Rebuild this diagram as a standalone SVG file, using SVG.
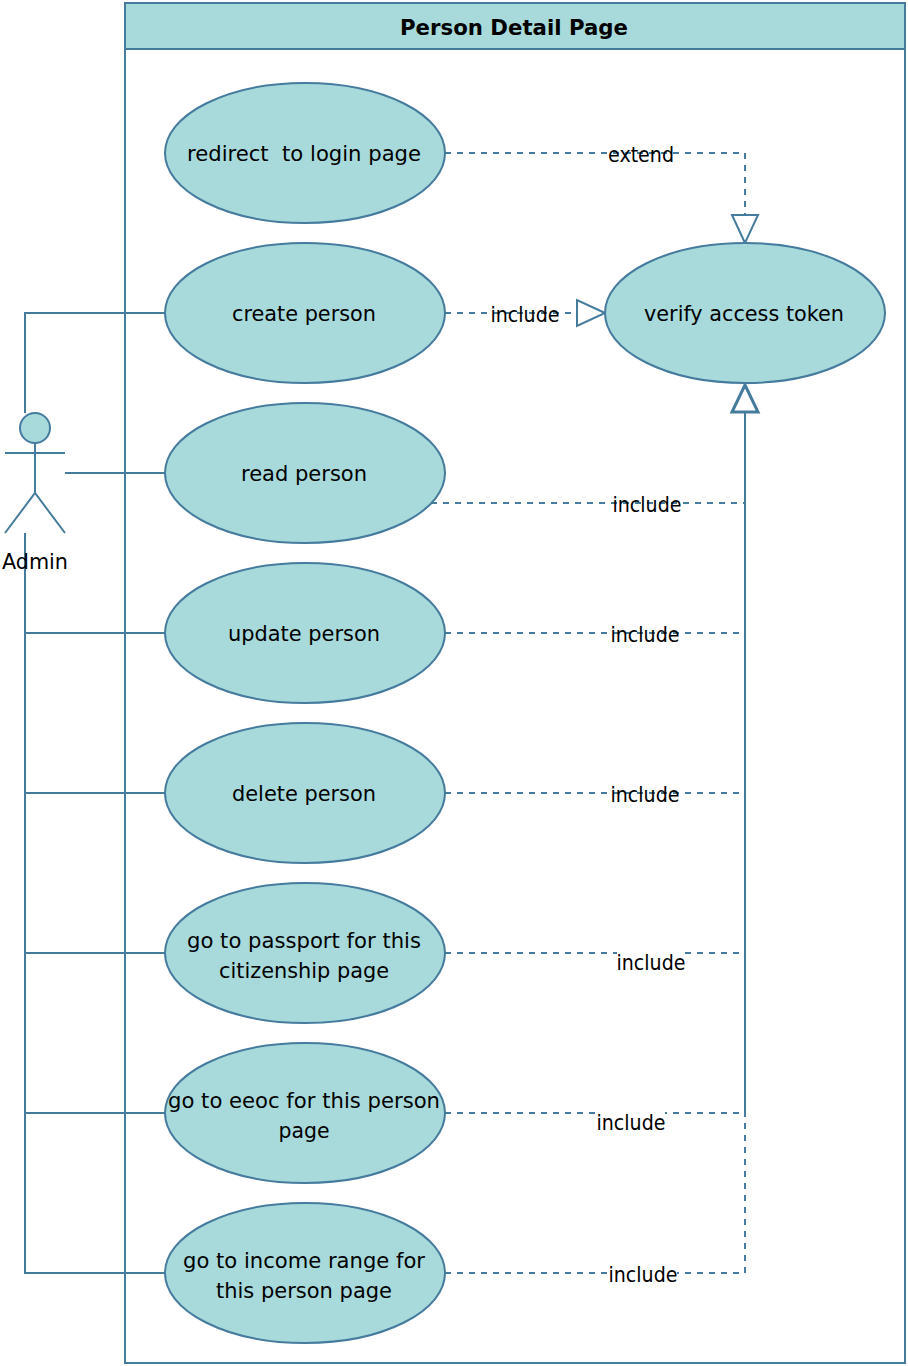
<svg xmlns="http://www.w3.org/2000/svg" width="908" height="1366" viewBox="0 0 908 1366">
<style>
.s{fill:#a8dadc;stroke:#457b9d;stroke-width:2}
.c{fill:none;stroke:#457b9d;stroke-width:2}
.d{fill:none;stroke:#457b9d;stroke-width:2;stroke-dasharray:6 6}
text{font-family:"DejaVu Sans",sans-serif;font-size:22px;fill:#000;text-anchor:middle;white-space:pre}
</style>
<g id="frame"><rect x="125" y="3" width="780" height="1360" fill="none" stroke="#457b9d" stroke-width="2"/><rect class="s" x="125" y="3" width="780" height="46"/><text x="514" y="35" font-weight="bold" textLength="228" lengthAdjust="spacingAndGlyphs">Person Detail Page</text></g>
<g id="connectors">
<path class="c" d="M25 413V313H165M65 473H165M25 533V1273H165M25 633H165M25 793H165M25 953H165M25 1113H165"/>
<path class="d" d="M445 153H745V215M445 313H577M431 503H745M445 633H745M445 793H745M445 953H745M445 1113H745M445 1273H745V1113"/>
<path class="c" d="M745 1113V412"/>
<path class="c" d="M745 243L732 215H758ZM605 313L577 300V326Z"/>
<path class="c" style="stroke-width:3" d="M745 385L732 412H758Z"/>
<g id="edge-labels">
<rect x="617" y="951" width="68" height="24" fill="#fff"/>
<rect x="597" y="1111" width="68" height="24" fill="#fff"/>
<rect x="609" y="1262" width="68" height="24" fill="#fff"/>
<text x="641" y="162" textLength="66" lengthAdjust="spacingAndGlyphs">extend</text>
<text x="525" y="322" textLength="69" lengthAdjust="spacingAndGlyphs">include</text>
<text x="647" y="512" textLength="69" lengthAdjust="spacingAndGlyphs">include</text>
<text x="645" y="642" textLength="69" lengthAdjust="spacingAndGlyphs">include</text>
<text x="645" y="802" textLength="69" lengthAdjust="spacingAndGlyphs">include</text>
<text x="651" y="970" textLength="69" lengthAdjust="spacingAndGlyphs">include</text>
<text x="631" y="1130" textLength="69" lengthAdjust="spacingAndGlyphs">include</text>
<text x="643" y="1282" textLength="69" lengthAdjust="spacingAndGlyphs">include</text>
</g>
</g>
<g id="admin"><circle class="s" cx="35" cy="428" r="15"/><path class="c" d="M35 443V493M5 453H65M5 533L35 493L65 533"/><text x="35" y="569" textLength="66" lengthAdjust="spacingAndGlyphs">Admin</text></g>
<g id="redirect"><ellipse class="s" cx="305" cy="153" rx="140" ry="70"/><text x="304" y="161" textLength="234" lengthAdjust="spacingAndGlyphs">redirect  to login page</text></g>
<g id="create"><ellipse class="s" cx="305" cy="313" rx="140" ry="70"/><text x="304" y="321" textLength="144" lengthAdjust="spacingAndGlyphs">create person</text></g>
<g id="read"><ellipse class="s" cx="305" cy="473" rx="140" ry="70"/><text x="304" y="481" textLength="126" lengthAdjust="spacingAndGlyphs">read person</text></g>
<g id="update"><ellipse class="s" cx="305" cy="633" rx="140" ry="70"/><text x="304" y="641" textLength="152" lengthAdjust="spacingAndGlyphs">update person</text></g>
<g id="delete"><ellipse class="s" cx="305" cy="793" rx="140" ry="70"/><text x="304" y="801" textLength="144" lengthAdjust="spacingAndGlyphs">delete person</text></g>
<g id="passport"><ellipse class="s" cx="305" cy="953" rx="140" ry="70"/><text x="304" y="948" textLength="234" lengthAdjust="spacingAndGlyphs">go to passport for this</text><text x="304" y="978" textLength="170" lengthAdjust="spacingAndGlyphs">citizenship page</text></g>
<g id="eeoc"><ellipse class="s" cx="305" cy="1113" rx="140" ry="70"/><text x="304" y="1108" textLength="272" lengthAdjust="spacingAndGlyphs">go to eeoc for this person</text><text x="304" y="1138" textLength="51" lengthAdjust="spacingAndGlyphs">page</text></g>
<g id="income"><ellipse class="s" cx="305" cy="1273" rx="140" ry="70"/><text x="304" y="1268" textLength="242" lengthAdjust="spacingAndGlyphs">go to income range for</text><text x="304" y="1298" textLength="176" lengthAdjust="spacingAndGlyphs">this person page</text></g>
<g id="verify"><ellipse class="s" cx="745" cy="313" rx="140" ry="70"/><text x="744" y="321" textLength="200" lengthAdjust="spacingAndGlyphs">verify access token</text></g>
</svg>
